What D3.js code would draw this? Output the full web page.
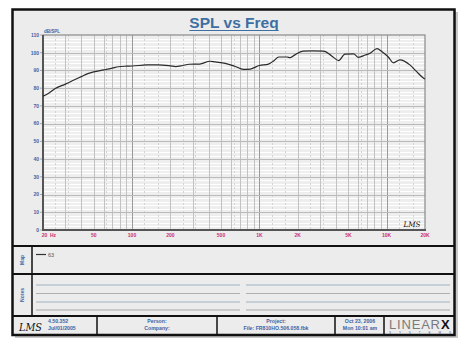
<!DOCTYPE html>
<html><head><meta charset="utf-8">
<script src="https://cdn.jsdelivr.net/npm/d3@7"></script>
<style>
html,body{margin:0;padding:0;background:#fff;}
svg{display:block;font-family:"Liberation Sans",Arial,sans-serif;}
</style></head>
<body>
<svg id="c" width="469" height="344"></svg>
<script>
// ---- data ----
const freqs = [20,22,25,30,35,40,45,50,60,70,78,90,100,130,160,200,220,250,280,340,410,450,540,640,750,850,1000,1180,1300,1420,1650,1750,1900,2200,2600,3200,3700,4200,4700,5500,6000,6800,7400,8400,9200,10300,11300,12700,15300,17200,19400,20000];
const spl   = [75.4,77,79.8,82.3,84.6,86.5,88.2,89.2,90.3,91.3,92.1,92.4,92.5,93.1,93.2,92.6,92.2,92.8,93.5,93.6,95.2,94.8,94.0,92.4,90.6,90.8,92.8,93.6,95.5,97.6,97.6,97.2,98.8,100.9,101.0,100.9,98.2,95.6,99.2,99.3,97.4,98.7,99.7,102.3,100.6,97.6,94.3,96.0,93.0,89.3,85.8,85.2];
const yTicks = [0,10,20,30,40,50,60,70,80,90,100,110];
const xTicks = [20,50,100,200,500,1000,2000,5000,10000,20000];
const xTickLabels = ["20","50","100","200","500","1K","2K","5K","10K","20K"];
const seriesName = "63";
const title = "SPL vs Freq";
const yUnit = "dB/SPL";

const svg = d3.select("#c");
const blue = "#3a63a6", mag = "#c8307a";

// frame
svg.append("rect").attr("x",15).attr("y",12).attr("width",443).attr("height",326).attr("fill","#c8c8c8");
svg.append("rect").attr("x",12.5).attr("y",9.5).attr("width",442).attr("height",325.5).attr("fill","#ececec").attr("stroke","#111").attr("stroke-width",2.5);

// title
const t = svg.append("text").attr("x",234).attr("y",28).attr("text-anchor","middle")
  .attr("font-size",15.5).attr("font-weight","bold").attr("fill","#3d6fa3").text(title);
const tb = t.node().getBBox();
svg.append("line").attr("x1",tb.x).attr("x2",tb.x+tb.width).attr("y1",30.5).attr("y2",30.5).attr("stroke","#3d6fa3").attr("stroke-width",1.2);

// scales
const x = d3.scaleLog().domain([20,20000]).range([43,425]);
const y = d3.scaleLinear().domain([0,110]).range([230,35]);

const g = svg.append("g");
g.append("rect").attr("x",43).attr("y",35).attr("width",382).attr("height",195).attr("fill","#eeeeee");

// minor horizontal (white)
d3.range(2,110,2).filter(v=>v%10!==0).forEach(v=>{
  g.append("line").attr("x1",43).attr("x2",425).attr("y1",Math.round(y(v))+0.5).attr("y2",Math.round(y(v))+0.5).attr("stroke","#ffffff").attr("stroke-width",1);
});
// dotted 1/3 oct vertical
const thirds=[1.25,1.6,2.5,3.15,6.3];
[10,100,1000,10000].forEach(d=>thirds.forEach(m=>{const f=d*m; if(f>20&&f<20000){
  g.append("line").attr("x1",Math.round(x(f))+0.5).attr("x2",Math.round(x(f))+0.5).attr("y1",35).attr("y2",230).attr("stroke","#d4d4d4").attr("stroke-dasharray","2,2");
}}));
// log vertical grid
[10,100,1000,10000].forEach(d=>d3.range(1,10).forEach(m=>{const f=d*m; if(f>20&&f<20000){
  g.append("line").attr("x1",Math.round(x(f))+0.5).attr("x2",Math.round(x(f))+0.5).attr("y1",35).attr("y2",230)
   .attr("stroke", m===1?"#9a9a9a":"#c2c2c2").attr("stroke-width",1);
}}));
// major horizontal
yTicks.forEach(v=>{ if(v>0&&v<110)
  g.append("line").attr("x1",43).attr("x2",425).attr("y1",Math.round(y(v))+0.5).attr("y2",Math.round(y(v))+0.5).attr("stroke","#bababa");
});
// border
g.append("rect").attr("x",43).attr("y",35).attr("width",382).attr("height",195).attr("fill","none").attr("stroke","#8a8a8a").attr("stroke-width",1.2);
g.append("line").attr("x1",43).attr("x2",43).attr("y1",35).attr("y2",231).attr("stroke","#555").attr("stroke-width",2);
g.append("line").attr("x1",42).attr("x2",426).attr("y1",230).attr("y2",230).attr("stroke","#555").attr("stroke-width",2);

// y labels
yTicks.forEach(v=>{
  g.append("text").attr("x",39).attr("y",y(v)+1.8).attr("text-anchor","end").attr("font-size",5).attr("font-weight","bold").attr("fill",blue).text(v);
  g.append("line").attr("x1",40).attr("x2",42).attr("y1",y(v)).attr("y2",y(v)).attr("stroke","#777").attr("stroke-width",0.6);
});
g.append("text").attr("x",44).attr("y",33).attr("font-size",4.5).attr("font-weight","bold").attr("fill",blue).text(yUnit);

// x labels
xTicks.forEach((v,i)=>{
  const xx = i===0 ? x(v)+1.5 : x(v);
  g.append("text").attr("x",xx).attr("y",237).attr("text-anchor","middle").attr("font-size",5).attr("font-weight","bold").attr("fill",mag).text(xTickLabels[i]);
});
g.append("text").attr("x",53).attr("y",237).attr("text-anchor","middle").attr("font-size",5).attr("font-weight","bold").attr("fill",mag).text("Hz");

// curve
const line = d3.line().x((d,i)=>x(freqs[i])).y(d=>y(d)).curve(d3.curveMonotoneX);
g.append("path").datum(spl).attr("d",line).attr("fill","none").attr("stroke","#2a2a2a").attr("stroke-width",1.2);

// LMS in plot
g.append("text").attr("x",412).attr("y",227).attr("text-anchor","middle").attr("font-size",7.5).attr("font-style","italic").attr("font-family","'DejaVu Serif',serif").attr("fill","#111").attr("textLength",17).attr("lengthAdjust","spacingAndGlyphs").text("LMS");

// section dividers
const L = (x1,y1,x2,y2,w)=>svg.append("line").attr("x1",x1).attr("y1",y1).attr("x2",x2).attr("y2",y2).attr("stroke","#111").attr("stroke-width",w||2);
L(12.5,246,454.5,246,2);
L(12.5,274,454.5,274,2);
L(12.5,316,454.5,316,2);
L(32,246,32,316,1.5);
[97,217,335,384].forEach(xx=>L(xx,316,xx,335,1.5));

// side labels
svg.append("text").attr("transform","translate(24,260) rotate(-90)").attr("text-anchor","middle").attr("font-size",5).attr("font-weight","bold").attr("fill",blue).text("Map");
svg.append("text").attr("transform","translate(24,295) rotate(-90)").attr("text-anchor","middle").attr("font-size",5).attr("font-weight","bold").attr("fill",blue).text("Notes");

// legend
svg.append("line").attr("x1",36).attr("x2",46).attr("y1",254.5).attr("y2",254.5).attr("stroke","#333").attr("stroke-width",1.2);
svg.append("text").attr("x",48).attr("y",256.5).attr("font-size",5.5).attr("fill","#555").text(seriesName);

// notes lines
const noteY=[285,293.5,302,310];
const noteC=["#9fb2bd","#b0b0b0","#9fb2bd","#a8a8a8"];
noteY.forEach((yy,i)=>{
  svg.append("line").attr("x1",36).attr("x2",240).attr("y1",yy).attr("y2",yy).attr("stroke",noteC[i]).attr("stroke-width",1.2);
  svg.append("line").attr("x1",246).attr("x2",450).attr("y1",yy).attr("y2",yy).attr("stroke",noteC[i]).attr("stroke-width",1.2);
});

// footer
svg.append("text").attr("x",19).attr("y",331).attr("font-size",11).attr("font-style","italic").attr("font-family","'DejaVu Serif',serif").attr("fill","#111").attr("textLength",23).attr("lengthAdjust","spacingAndGlyphs").text("LMS");
const ft=(xx,yy,s,anchor)=>svg.append("text").attr("x",xx).attr("y",yy).attr("text-anchor",anchor||"middle").attr("font-size",5.2).attr("font-weight","bold").attr("fill",blue).text(s);
ft(48,323,"4.50.352","start");
ft(48,330,"Jul/01/2005","start");
ft(157,323,"Person:");
ft(157,330,"Company:");
ft(276,323,"Project:");
ft(276,330,"File: FR810HO.506.058.fbk");
ft(360,323,"Oct 23, 2006");
ft(360,330,"Mon 10:01 am");
svg.append("text").attr("x",389).attr("y",329).attr("font-size",13).attr("fill","#7a7a7a").attr("textLength",51).attr("lengthAdjust","spacing").text("LINEAR");
svg.append("text").attr("x",441).attr("y",329).attr("font-size",13).attr("font-weight","bold").attr("fill","#111").text("X");
svg.append("text").attr("x",389).attr("y",333.5).attr("font-size",3).attr("fill",blue).attr("textLength",62).attr("lengthAdjust","spacing").text("S Y S T E M S");
</script>
</body></html>
